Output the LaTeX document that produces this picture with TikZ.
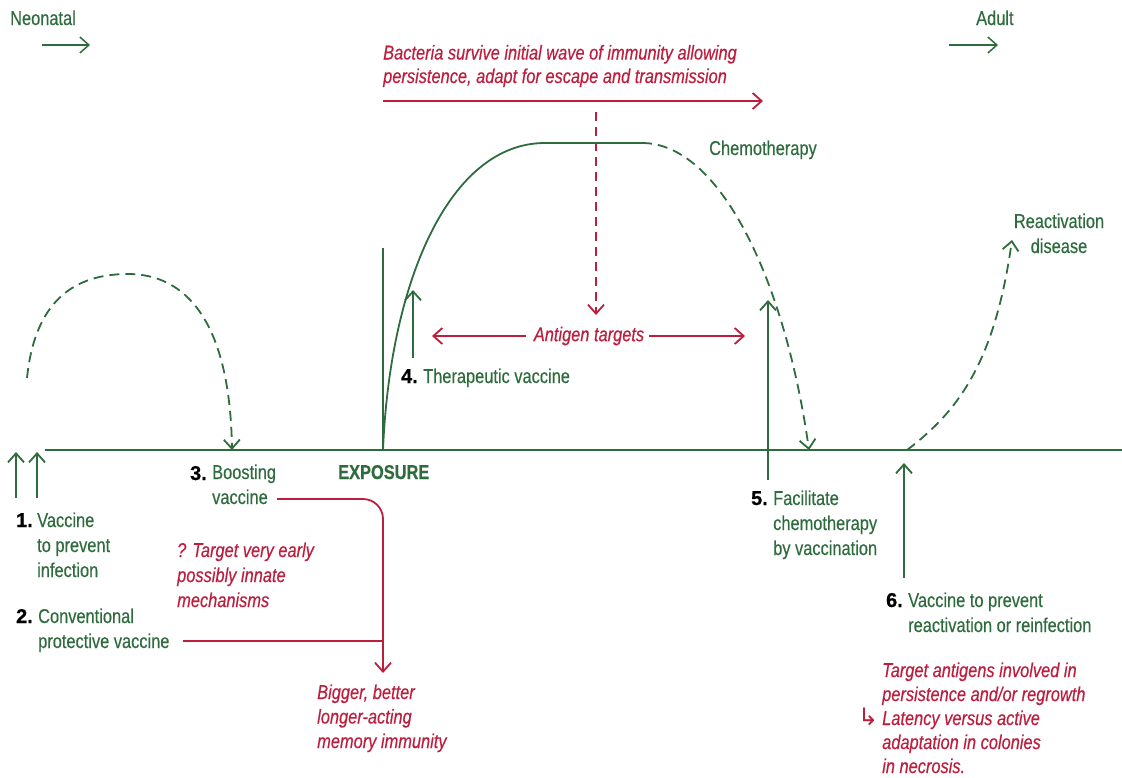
\documentclass[tikz,border=0pt]{standalone}
\usepackage{fontspec}
\setmainfont{Liberation Sans}[FakeStretch=0.82, FakeBold=0.4]
\newfontfamily\nrfont{Liberation Sans}[FakeBold=0.6]
\newfontfamily\symbfont{DejaVu Sans}
\usetikzlibrary{arrows.meta}
\definecolor{gruen}{RGB}{46,108,62}
\definecolor{rot}{RGB}{188,30,62}
\begin{document}
\begin{tikzpicture}[x=1pt, y=-1pt, >={Straight Barb[length=9pt,width=16pt]},
	achse/.style={gruen, line width=2.4pt},
	gpfeil/.style={gruen, line width=1.8pt, ->},
	gestrichelt/.style={gruen, line width=1.8pt, dash pattern=on 10pt off 6pt},
	rpfeil/.style={rot, line width=1.8pt},
	gtext/.style={gruen, font=\fontsize{20}{25}\selectfont, align=left, inner sep=0pt, anchor=base west},
	rtext/.style={rot, font=\fontsize{20}{24.5}\selectfont\itshape, align=left, inner sep=0pt, anchor=base west},
	nr/.style={font=\fontsize{20}{25}\nrfont\bfseries, inner sep=0pt, anchor=base east}]
	
	\useasboundingbox (0,0) rectangle (1122,777);
	
	% Zeitachse
	\coordinate (start) at (45,450);
	\coordinate (ende) at (1122,450);
	\draw[achse] (start) -- (ende);
	
	% Neonatal / Adult
	\node[gtext] (neo) at (10,25) {Neonatal};
	\node[gtext] (adult) at (976,25) {Adult};
	\coordinate (n1) at (42,45); \coordinate (n2) at (90,45);
	\coordinate (a1) at (949,45); \coordinate (a2) at (998,45);
	\draw[gpfeil, line width=1.5pt] (n1) -- (n2);
	\draw[gpfeil, line width=1.5pt] (a1) -- (a2);
	
	% Bakterien (Basislinie = letzte Zeile)
	\node[rtext, font=\fontsize{20}{23.5}\selectfont\itshape] (bakt) at (383,83) {Bacteria survive initial wave of immunity allowing\\persistence, adapt for escape and transmission};
	\coordinate (b1) at (383,101); \coordinate (b2) at (763,101);
	\draw[rpfeil, ->] (b1) -- (b2);
	\coordinate (d1) at (596,112); \coordinate (d2) at (596,315);
	\draw[rpfeil, ->, dash pattern=on 9pt off 6pt] (d1) -- (d2);
	
	% Kurve nach Exposition
	\coordinate (expo) at (383,450);
	\coordinate (plat1) at (545,143);
	\coordinate (plat2) at (642,143);
	\coordinate (chemoziel) at (809,450);
	\draw[achse, line width=1.8pt] (expo) -- (383,248);
	\draw[achse, line width=1.8pt] (expo) .. controls (390,280) and (450,143) .. (plat1) -- (plat2);
	\draw[gestrichelt, ->] (plat2) .. controls (720,143) and (785,280) .. (chemoziel);
	\node[gtext] (chemo) at (709,155) {Chemotherapy};
	
	% fruehe Infektion
	\coordinate (boostziel) at (232,450);
	\draw[gestrichelt, ->] (27,378) .. controls (35,300) and (75,274) .. (128,274) .. controls (185,274) and (230,320) .. (boostziel);
	
	% Reaktivierung
	\coordinate (reakt0) at (907,450);
	\coordinate (reakt1) at (1012,240);
	\draw[gestrichelt, ->] (reakt0) .. controls (960,410) and (995,360) .. (reakt1);
	\node[gruen, font=\fontsize{20}{25}\selectfont, align=center, inner sep=0pt, anchor=base] (reakt) at (1059,253) {Reactivation\\disease};
	
	% Antigene
	\node[rot, font=\fontsize{20}{24}\selectfont\itshape, inner sep=0pt, fill=white] (antigen) at (589,336) {Antigen targets};
	\coordinate (ag1) at (432,336); \coordinate (ag2) at (745,336);
	\draw[rpfeil, ->] ([xshift=-8pt]antigen.west) -- (ag1);
	\draw[rpfeil, ->] ([xshift=5pt]antigen.east) -- (ag2);
	
	% Impfungen 1 bis 6
	\coordinate (v1a) at (16,498); \coordinate (v1b) at (16,452);
	\coordinate (v2a) at (37,498); \coordinate (v2b) at (37,452);
	\draw[gpfeil] (v1a) -- (v1b);
	\draw[gpfeil] (v2a) -- (v2b);
	\node[gtext] (t1) at (37,577) {Vaccine\\to prevent\\infection};
	\node[nr] at (33,527) {1.};
	\node[gtext] (t2) at (38,648) {Conventional\\protective vaccine};
	\node[nr] at (33,623) {2.};
	\node[gtext] (t3) at (212,504) {Boosting\\vaccine};
	\node[nr] at (207,480) {3.};
	\node[gtext, font=\fontsize{20}{25}\selectfont\bfseries] (exposure) at (338,479) {EXPOSURE};
	
	\coordinate (v4a) at (413,358); \coordinate (v4b) at (413,290);
	\draw[gpfeil] (v4a) -- (v4b);
	\node[gtext] (t4) at (423,383) {Therapeutic vaccine};
	\node[nr] at (418,383) {4.};
	
	\coordinate (v5a) at (768,480); \coordinate (v5b) at (768,300);
	\draw[gpfeil] (v5a) -- (v5b);
	\node[gtext] (t5) at (773,555) {Facilitate\\chemotherapy\\by vaccination};
	\node[nr] at (768,505) {5.};
	
	\coordinate (v6a) at (904,578); \coordinate (v6b) at (904,463);
	\draw[gpfeil] (v6a) -- (v6b);
	\node[gtext] (t6) at (908,632) {Vaccine to prevent\\reactivation or reinfection};
	\node[nr] at (903,607) {6.};
	
	% rote Hinweise
	\node[rtext, font=\fontsize{20}{25}\selectfont\itshape] (frage) at (177,607) {? Target very early\\possibly innate\\mechanisms};
	\coordinate (r1) at (277,499);
	\coordinate (r2) at (383,499);
	\coordinate (r3) at (383,673);
	\coordinate (r4) at (183,641);
	\coordinate (r5) at (383,641);
	\draw[rpfeil, ->, rounded corners=20pt] (r1) -- (r2) -- (r3);
	\draw[rpfeil] (r4) -- (r5);
	\node[rtext] (groesser) at (317,748) {Bigger, better\\longer-acting\\memory immunity};
	\node[rtext, font=\fontsize{20}{24}\selectfont\itshape] (ziel) at (882,773) {Target antigens involved in\\persistence and/or regrowth\\\llap{\symbfont\upshape\fontsize{24}{24}\selectfont ↳\,}Latency versus active\\adaptation in colonies\\in necrosis.};
	
\end{tikzpicture}
\end{document}
